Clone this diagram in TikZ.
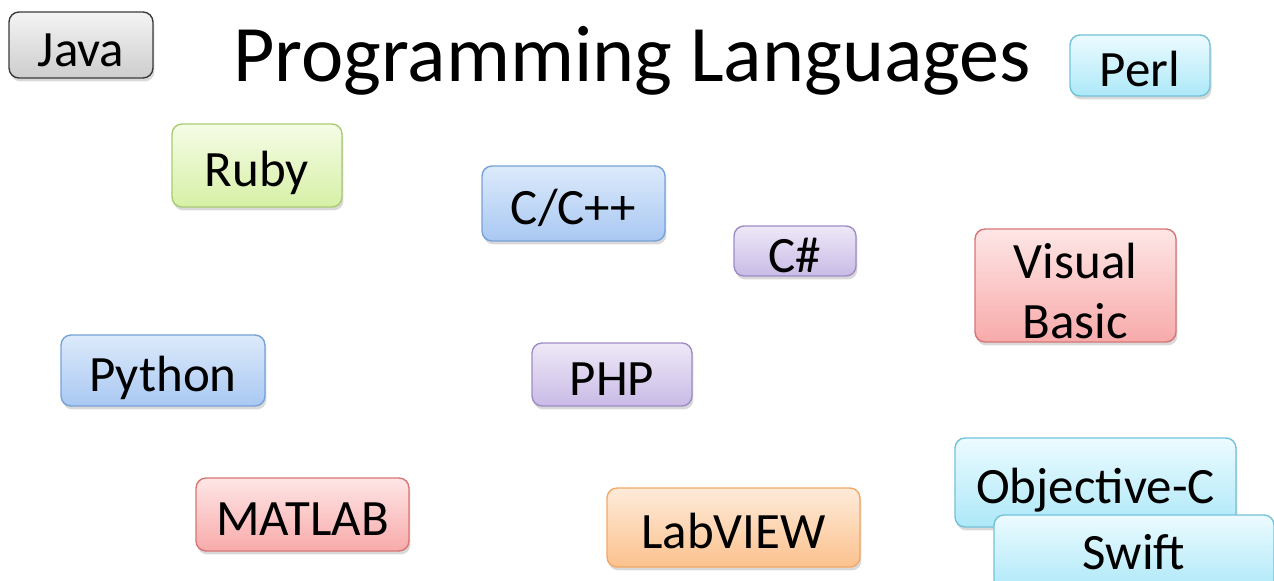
\documentclass[tikz,border=0pt]{standalone}
\usepackage{fontspec}
\setmainfont{Carlito}
\usetikzlibrary{shadows}

\definecolor{grayT}{HTML}{F4F4F4}
\definecolor{grayB}{HTML}{CDCDCD}
\definecolor{grayD}{HTML}{3A3A3A}
\definecolor{greenT}{HTML}{F6FCE6}
\definecolor{greenB}{HTML}{D6F0A6}
\definecolor{greenD}{HTML}{A8CC72}
\definecolor{blueT}{HTML}{DCEAFB}
\definecolor{blueB}{HTML}{A9C8F2}
\definecolor{blueD}{HTML}{76A2D6}
\definecolor{purpleT}{HTML}{EEE8F7}
\definecolor{purpleB}{HTML}{C9BBE6}
\definecolor{purpleD}{HTML}{9E8CC6}
\definecolor{redT}{HTML}{FEE6E6}
\definecolor{redB}{HTML}{F8AAAA}
\definecolor{redD}{HTML}{D77575}
\definecolor{cyanT}{HTML}{ECFBFF}
\definecolor{cyanB}{HTML}{ADE8F8}
\definecolor{cyanD}{HTML}{72C3DA}
\definecolor{orangeT}{HTML}{FEEBDA}
\definecolor{orangeB}{HTML}{FBC18D}
\definecolor{orangeD}{HTML}{F2A867}

\begin{document}
\begin{tikzpicture}[
	x=0.02cm, y=-0.02cm,
	lang/.style={ draw, rounded corners=0.2cm, line width=0.8pt, inner sep=0pt,
		font=\fontsize{29}{34}\selectfont, text height=24pt, text depth=0pt,
		drop shadow={shadow xshift=0.03cm, shadow yshift=-0.07cm, opacity=0.3} },
	langgray/.style={ lang, draw=grayD, top color=grayT, bottom color=grayB },
	langgreen/.style={ lang, draw=greenD, top color=greenT, bottom color=greenB },
	langblue/.style={ lang, draw=blueD, top color=blueT, bottom color=blueB },
	langpurple/.style={ lang, draw=purpleD, top color=purpleT, bottom color=purpleB },
	langred/.style={ lang, draw=redD, top color=redT, bottom color=redB },
	langcyan/.style={ lang, draw=cyanD, top color=cyanT, bottom color=cyanB },
	langorange/.style={ lang, draw=orangeD, top color=orangeT, bottom color=orangeB }
]

\useasboundingbox (0,0) rectangle (1274,581);
\clip (0,0) rectangle (1274,581);

% title
\node at (632,61) (title) [font=\fontsize{45.6}{50}\selectfont] {Programming Languages};

% top row
\node at (81,45) (java) [langgray, minimum width=2.88cm, minimum height=1.32cm] {Java};
\node at (1140,65.5) (perl) [langcyan, minimum width=2.8cm, minimum height=1.22cm] {Perl};

% middle
\node at (257,165.5) (ruby) [langgreen, minimum width=3.4cm, minimum height=1.66cm] {Ruby};
\node at (573.5,203.5) (cpp) [langblue, minimum width=3.66cm, minimum height=1.5cm] {C/C++};
\node at (795,251) (csharp) [langpurple, minimum width=2.44cm, minimum height=1cm] {C\#};
\node at (1075.5,285.5) (vbasic) [langred, align=center, text height={}, text depth={}, minimum width=4.02cm, minimum height=2.26cm] {\rule{0pt}{0.92em}Visual\\Basic};
\node at (163,370.5) (python) [langblue, minimum width=4.08cm, minimum height=1.42cm] {Python};
\node at (612,374.5) (php) [langpurple, minimum width=3.2cm, minimum height=1.26cm] {PHP};

% bottom row
\node at (302.5,514.5) (matlab) [langred, minimum width=4.26cm, minimum height=1.46cm] {MATLAB};
\node at (733.5,527.5) (labview) [langorange, minimum width=5.06cm, minimum height=1.58cm] {LabVIEW};
\node at (1095.5,482.5) (objc) [langcyan, minimum width=5.62cm, minimum height=1.78cm] {Objective-C};
\node at (1134,553) (swift) [langcyan, text height=19pt, minimum width=5.6cm, minimum height=1.52cm] {Swift};

\end{tikzpicture}
\end{document}
